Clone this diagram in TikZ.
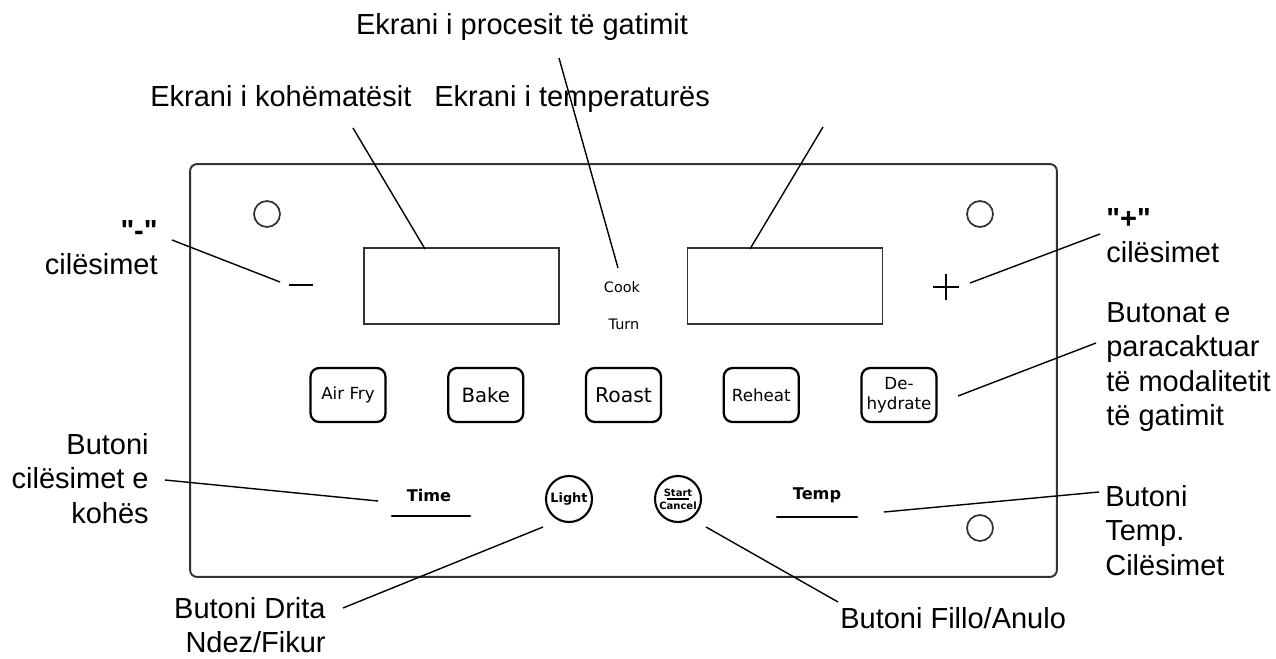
\documentclass[tikz,border=0pt]{standalone}
\usepackage{fontspec}
\setmainfont{Liberation Sans}[Ligatures=TeXOff]
\newfontfamily\panelfont{DejaVu Sans}
\usetikzlibrary{calc}
\tikzstyle{panelbox}=[rectangle, draw=black!80, line width=1.1pt, rounded corners=4pt, inner sep=0pt]
\tikzstyle{screen}=[rectangle, draw=black!80, line width=1pt, minimum width=3.9cm, minimum height=1.52cm, inner sep=0pt]
\tikzstyle{hole}=[circle, draw=black!80, line width=1pt, minimum size=0.52cm, inner sep=0pt]
\tikzstyle{btn}=[rectangle, draw=black, line width=1.3pt, rounded corners=5pt, minimum width=1.5cm, minimum height=1.08cm, inner sep=0pt, align=center, font=\panelfont\fontsize{9.5}{11}\selectfont]
\tikzstyle{rbtn}=[circle, draw=black, line width=1.2pt, minimum size=0.92cm, inner sep=0pt, align=center]
\tikzstyle{lbl}=[inner sep=0pt, font=\fontsize{16.5}{19.6}\selectfont]
\tikzstyle{leader}=[draw=black, line width=0.8pt]
\tikzstyle{bar}=[draw=black, line width=1.6pt, line cap=round]
\newcommand{\drawpanel}[0]
{
  \node[panelbox, minimum width=17.34cm, minimum height=8.26cm](panel) at (623.5,370.5){};
  \node[hole](holeTL) at (267,214){};
  \node[hole](holeTR) at (980,214){};
  \node[hole](holeBR) at (980,528){};
  \node[screen](timer) at (461.5,286){};
  \node[screen](tempscr) at (785,286){};
}

\begin{document}
\begin{tikzpicture}[x=0.02cm, y=-0.02cm]
	\useasboundingbox (0,0) rectangle (1276,659);
	\drawpanel{}

	\node[font=\panelfont\fontsize{8.2}{9}\selectfont](cook) at (622,287){Cook};
	\node[font=\panelfont\fontsize{8.2}{9}\selectfont](turn) at (624,324){Turn};
	\coordinate (minus) at (301,285);
	\coordinate (plus) at (946,287);
	\draw[line width=1.3pt] ($(minus)+(-12,0)$) -- ($(minus)+(12,0)$);
	\draw[line width=1.3pt] ($(plus)+(-13,0)$) -- ($(plus)+(13,0)$) ($(plus)+(0,-13)$) -- ($(plus)+(0,13)$);

	\node[btn](airfry) at (348,395){Air Fry};
	\node[btn, font=\panelfont\fontsize{11.2}{13}\selectfont](bake) at (485.75,395){Bake};
	\node[btn, font=\panelfont\fontsize{11.6}{13}\selectfont](roast) at (623.5,395){Roast};
	\node[btn](reheat) at (761.25,395){Reheat};
	\node[btn](dehydrate) at (899,395){De-\\hydrate};

	\node[font=\panelfont\bfseries\fontsize{9.2}{10}\selectfont](time) at (429,495){Time};
	\node[font=\panelfont\bfseries\fontsize{9.2}{10}\selectfont](temp) at (817,495){Temp};
	\draw[bar] (392,516) -- (470,516);
	\draw[bar] (777,517) -- (857,517);
	\node[rbtn, font=\panelfont\bfseries\fontsize{7.3}{8}\selectfont](light) at (569,499){Light};
	\node[rbtn, font=\panelfont\bfseries\fontsize{5.7}{7.5}\selectfont](startbtn) at (678,499){Start\\Cancel};
	\draw[line width=0.6pt] ($(startbtn.center)+(-11,0)$) -- ($(startbtn.center)+(11,0)$);

	% labels round the panel
	\node[lbl, anchor=base](lblproc) at (522,34){Ekrani i procesit të gatimit};
	\node[lbl, anchor=base west](lblkoh) at (150,106){Ekrani i kohëmatësit};
	\node[lbl, anchor=base west](lbltemp) at (434,106){Ekrani i temperaturës};
	\node[lbl, anchor=north east, align=right](lblminus) at (158,220){\textbf{"-"}\\cilësimet};
	\node[lbl, anchor=north west, align=left](lblplus) at (1106,208){\textbf{"+"}\\cilësimet};
	\node[lbl, anchor=north west, align=left](lblmodes) at (1106,302){Butonat e\\paracaktuar\\të modalitetit\\të gatimit};
	\node[lbl, anchor=north east, align=right](lbltime) at (149,433){Butoni\\cilësimet e\\kohës};
	\node[lbl, anchor=north west, align=left](lbltempset) at (1105,485){Butoni\\Temp.\\Cilësimet};
	\node[lbl, anchor=north east, align=right](lbllight) at (326,597){Butoni Drita\\Ndez/Fikur};
	\node[lbl, anchor=north west](lblstart) at (840,607){Butoni Fillo/Anulo};

	% leader lines
	\coordinate (procA) at (559,58);   \coordinate (procB) at (618,268);
	\coordinate (kohA) at (353,128);   \coordinate (kohB) at (425,249);
	\coordinate (tempA) at (823,127);  \coordinate (tempB) at (750,249);
	\coordinate (minusA) at (172,240); \coordinate (minusB) at (280,282);
	\coordinate (plusA) at (1100,234); \coordinate (plusB) at (970,283);
	\coordinate (modesA) at (1096,343); \coordinate (modesB) at (958,396);
	\coordinate (timeA) at (165,480);  \coordinate (timeB) at (378,501);
	\coordinate (tsetA) at (1099,492); \coordinate (tsetB) at (884,512);
	\coordinate (lightA) at (343,608); \coordinate (lightB) at (543,527);
	\coordinate (startA) at (838,602); \coordinate (startB) at (706,527);
	\draw[leader] (procA) -- (procB);
	\draw[leader] (kohA) -- (kohB);
	\draw[leader] (tempA) -- (tempB);
	\draw[leader] (minusA) -- (minusB);
	\draw[leader] (plusA) -- (plusB);
	\draw[leader] (modesA) -- (modesB);
	\draw[leader] (timeA) -- (timeB);
	\draw[leader] (tsetA) -- (tsetB);
	\draw[leader] (lightA) -- (lightB);
	\draw[leader] (startA) -- (startB);
\end{tikzpicture}
\end{document}
